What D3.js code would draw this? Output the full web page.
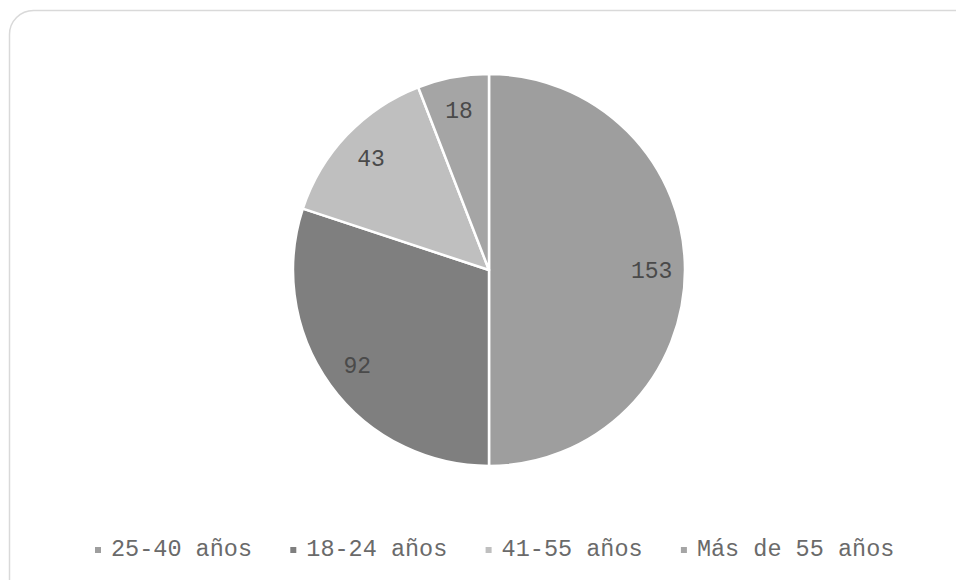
<!DOCTYPE html>
<html>
<head>
<meta charset="utf-8">
<script src="https://cdn.jsdelivr.net/npm/d3@7"></script>
<style>
  body { margin: 0; background: #fff; }
  svg { display: block; }
  text { font-family: "Liberation Mono", "Courier New", monospace; }
</style>
</head>
<body>
<div id="chart"></div>
<script>
// data
var categories = ['25-40 años', '18-24 años', '41-55 años', 'Más de 55 años'];
var values = [153, 92, 43, 18];
var colors = ['#9e9e9e', '#7f7f7f', '#bfbfbf', '#a5a5a5'];

var width = 956,
    height = 580,
    cx = 489, cy = 270, radius = 196;

var svg = d3.select('#chart')
  .append('svg')
  .attr('width', width)
  .attr('height', height);

// chart area border
svg.append('rect')
  .attr('x', 9.5).attr('y', 10.5)
  .attr('width', 990).attr('height', 600)
  .attr('rx', 24).attr('ry', 24)
  .attr('fill', '#fff')
  .attr('stroke', '#d9d9d9')
  .attr('stroke-width', 1.5);

var data = categories.map(function(c, i){ return {name: c, value: values[i], color: colors[i]}; });

var pie = d3.pie().sort(null).value(function(d){ return d.value; });
var arc = d3.arc().innerRadius(0).outerRadius(radius);
var labelArc = d3.arc().innerRadius(radius * 0.83).outerRadius(radius * 0.83);

var g = svg.append('g').attr('transform', 'translate(' + cx + ',' + cy + ')');

var slices = g.selectAll('g.slice').data(pie(data)).enter()
  .append('g').classed('slice', true);

slices.append('path')
  .attr('d', arc)
  .attr('fill', function(d){ return d.data.color; })
  .attr('stroke', '#fff')
  .attr('stroke-width', 2.5)
  .attr('stroke-linejoin', 'round');

// thin-looking labels, like Courier New
slices.append('text')
  .attr('transform', function(d){ return 'translate(' + labelArc.centroid(d) + ')'; })
  .attr('text-anchor', 'middle')
  .attr('dy', '0.35em')
  .attr('font-size', 23)
  .attr('fill', '#4a4a4a')
  .text(function(d){ return d.value === undefined ? d.data.value : d.data.value; });

// legend
var legendX = 95, pitch = 195.3, legendY = 556;
var legend = svg.selectAll('g.legend').data(data).enter()
  .append('g').classed('legend', true)
  .attr('transform', function(d, i){ return 'translate(' + (legendX + i * pitch) + ',' + legendY + ')'; });

legend.append('rect')
  .attr('x', 0).attr('y', -9)
  .attr('width', 6).attr('height', 6)
  .attr('fill', function(d){ return d.color; });

legend.append('text')
  .attr('x', 16).attr('y', 0)
  .attr('font-size', 23.5)
  .attr('fill', '#6a6a6a')
  .text(function(d){ return d.name; });
</script>
</body>
</html>
